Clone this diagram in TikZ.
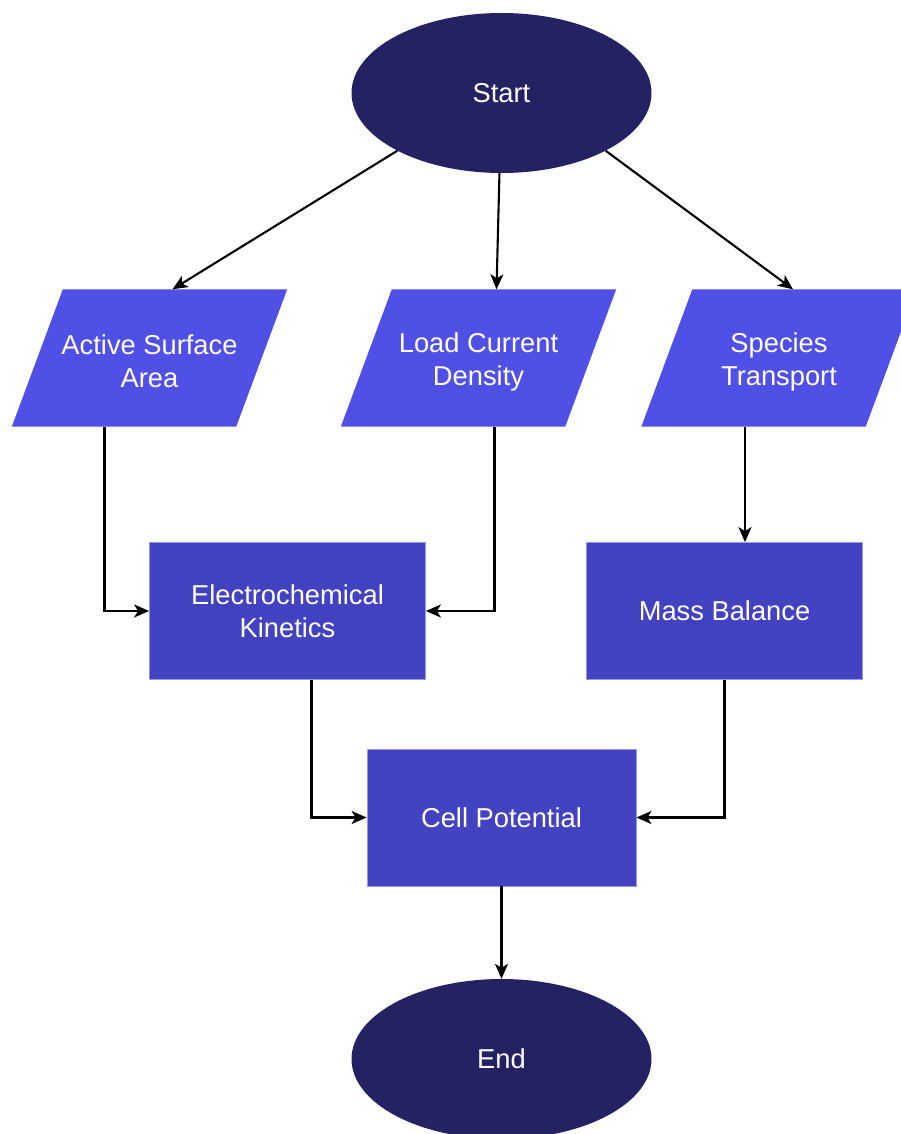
\documentclass[tikz,border=0pt]{standalone}
\usepackage{fontspec}
\setmainfont{Liberation Sans}
\usetikzlibrary{arrows.meta,calc,backgrounds,shapes.geometric}
\definecolor{navy}{RGB}{36,34,98}
\definecolor{paracol}{RGB}{80,80,230}
\definecolor{rectcol}{RGB}{67,66,192}
\definecolor{rectedge}{RGB}{150,150,235}
\tikzset{
  lbl/.style={text=white, font=\fontsize{27.3}{33}\selectfont, align=center},
  term/.style={ellipse, fill=navy, minimum width=300, minimum height=160, inner sep=0, lbl},
  parabox/.style={rectangle, minimum width=224, minimum height=137, inner sep=0, lbl},
  procbox/.style={rectangle, fill=rectcol, draw=rectedge, line width=0.8, minimum height=137, inner sep=0, lbl},
  conn/.style={draw=black, line width=2.1, -{Stealth[length=15, width=13, inset=4]}}
}
\newcommand{\parafill}[1]{%
  \fill[paracol] ($(#1.north west)+(25.5,-3.5)$) -- ($(#1.north east)+(25.5,-3.5)$) --
    ($(#1.south east)+(-25.5,-3.5)$) -- ($(#1.south west)+(-25.5,-3.5)$) -- cycle;}
\begin{document}
\begin{tikzpicture}[x=1pt,y=-1pt]
\clip (0,0) rectangle (901,1134);
\useasboundingbox (0,0) rectangle (901,1134);

\node[term] (start) at (501.5,93) {Start};
\node[parabox] (asa) at (149.5,361.5) {Active Surface\\Area};
\node[parabox] (lcd) at (478.5,361.5) {Load Current\\Density};
\node[parabox] (st) at (779,361.5) {Species\\Transport};
\node[procbox, minimum width=276] (ek) at (287.5,611) {Electrochemical\\Kinetics};
\node[procbox, minimum width=276] (mb) at (724.5,611) {Mass Balance};
\node[procbox, minimum width=269] (cp) at (501.5,817.5) {Cell Potential};
\node[term] (end) at (501.5,1059) {End};

\begin{pgfonlayer}{background}
\parafill{asa}
\parafill{lcd}
\parafill{st}
\end{pgfonlayer}

\coordinate (asaT) at ($(asa.north)+(23,-3.5)$);
\coordinate (lcdT) at ($(lcd.north)+(18,-3.5)$);
\coordinate (stT) at ($(st.north)+(14,-3.5)$);
\coordinate (asaB) at ($(asa.south)+(-45,-3.5)$);
\coordinate (lcdB) at ($(lcd.south)+(16,-3.5)$);
\coordinate (stB) at ($(st.south)+(-34,-3.5)$);
\coordinate (ekB) at ($(ek.south)+(24,0)$);

\draw[conn] (start.209) -- (asaT);
\draw[conn] (start) -- (lcdT);
\draw[conn] (start.331) -- (stT);
\draw[conn] (asaB) |- (ek.west);
\draw[conn] (lcdB) |- (ek.east);
\draw[conn] (stB) -- (stB |- mb.north);
\draw[conn] (ekB) |- (cp.west);
\draw[conn] (mb.south) |- (cp.east);
\draw[conn] (cp.south) -- (end.north);
\end{tikzpicture}
\end{document}
